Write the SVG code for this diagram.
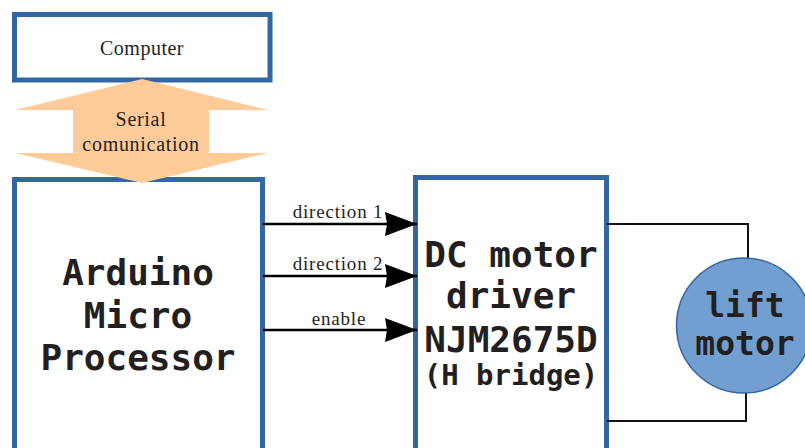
<svg xmlns="http://www.w3.org/2000/svg" width="805" height="448" viewBox="0 0 805 448">
<defs>
<style>
.box{fill:#ffffff;stroke:#3465a4;stroke-width:5}
.serif{font-family:"Liberation Serif","Times New Roman",serif;fill:#231f20;text-anchor:middle}
.mono{font-family:"DejaVu Sans Mono","Liberation Mono",monospace;font-weight:bold;fill:#231f20;text-anchor:middle}
.wire{stroke:#000;stroke-width:2.5;fill:none}
.wire2{stroke:#111;stroke-width:2;fill:none}
</style>
<marker id="ah" markerUnits="userSpaceOnUse" markerWidth="34" markerHeight="26" refX="32" refY="12" orient="auto">
<path d="M0,0 L32,12 L0,24 L2,12 Z" fill="#000"/>
</marker>
</defs>
<rect width="805" height="448" fill="#ffffff"/>
<g id="computer">
<rect class="box" x="14.5" y="14.5" width="255.5" height="65.5"/>
<text class="serif" x="142" y="55" font-size="20" letter-spacing="0.5">Computer</text>
</g>
<g id="arduino">
<rect class="box" x="14.5" y="179.5" width="248" height="300"/>
<text class="mono" x="138" y="285" font-size="36">Arduino</text>
<text class="mono" x="138" y="328" font-size="36">Micro</text>
<text class="mono" x="138" y="370" font-size="36">Processor</text>
</g>
<g id="serial">
<polygon points="15,110 142,79 268,110 209,110 209,153 268,153 142,183 15,153 73,153 73,110" fill="#ffcc99"/>
<text class="serif" x="141" y="126" font-size="20" letter-spacing="0.7">Serial</text>
<text class="serif" x="141" y="151" font-size="20" letter-spacing="0.7">comunication</text>
</g>
<g id="driver">
<rect class="box" x="415.5" y="177.5" width="191" height="300"/>
<text class="mono" x="511" y="267" font-size="36">DC motor</text>
<text class="mono" x="511" y="308" font-size="36">driver</text>
<text class="mono" x="511" y="352" font-size="36">NJM2675D</text>
<text class="mono" x="511" y="385" font-size="29">(H bridge)</text>
</g>
<g id="connectors">
<line class="wire" x1="263" y1="224" x2="417" y2="224" marker-end="url(#ah)"/>
<line class="wire" x1="263" y1="276" x2="417" y2="276" marker-end="url(#ah)"/>
<line class="wire" x1="263" y1="330" x2="417" y2="330" marker-end="url(#ah)"/>
<text class="serif" x="338" y="218" font-size="19" letter-spacing="0.8">direction 1</text>
<text class="serif" x="338" y="270" font-size="19" letter-spacing="0.8">direction 2</text>
<text class="serif" x="339" y="325" font-size="19" letter-spacing="0.8">enable</text>
<polyline class="wire2" points="607,224 748,224 748,259"/>
<polyline class="wire2" points="607,421 746,421 746,392"/>
</g>
<g id="motor">
<circle cx="744" cy="325.5" r="67.5" fill="#729fcf" stroke="#3465a4" stroke-width="1.5"/>
<text class="mono" x="745" y="317" font-size="33">lift</text>
<text class="mono" x="745" y="355" font-size="33">motor</text>
</g>
</svg>
